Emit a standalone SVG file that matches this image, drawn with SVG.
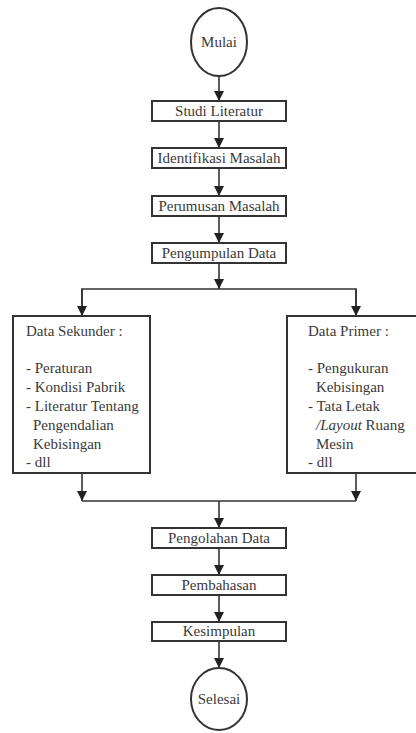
<svg xmlns="http://www.w3.org/2000/svg" width="416" height="733" viewBox="0 0 416 733">
<style>
.n{fill:#fff;stroke:#333;stroke-width:2}
.t{font-family:"Liberation Serif","Times New Roman",serif;font-size:15px;fill:#3a3a3a}
.c{text-anchor:middle}
.e{fill:none;stroke:#333;stroke-width:1.6}
</style>
<defs>
<marker id="ah" markerWidth="10" markerHeight="10" viewBox="0 0 10 10" refX="10" refY="5" orient="auto" markerUnits="userSpaceOnUse">
<path d="M0,0 L10,5 L0,10 Z" fill="#222"/>
</marker>
</defs>
<rect width="416" height="733" fill="#fff"/>
<g id="connectors">
<line class="e" x1="219" y1="76" x2="219" y2="101" marker-end="url(#ah)"/>
<line class="e" x1="219" y1="121" x2="219" y2="148" marker-end="url(#ah)"/>
<line class="e" x1="219" y1="168" x2="219" y2="196" marker-end="url(#ah)"/>
<line class="e" x1="219" y1="216" x2="219" y2="243" marker-end="url(#ah)"/>
<line class="e" x1="219" y1="263" x2="219" y2="289" marker-end="url(#ah)"/>
<polyline class="e" points="82,316 82,289 356,289 356,316"/>
<line class="e" x1="82" y1="289" x2="82" y2="316" marker-end="url(#ah)"/>
<line class="e" x1="356" y1="289" x2="356" y2="316" marker-end="url(#ah)"/>
<line class="e" x1="82" y1="473" x2="82" y2="501" marker-end="url(#ah)"/>
<line class="e" x1="356" y1="473" x2="356" y2="501" marker-end="url(#ah)"/>
<line class="e" x1="82" y1="501" x2="356" y2="501"/>
<line class="e" x1="219" y1="501" x2="219" y2="528" marker-end="url(#ah)"/>
<line class="e" x1="219" y1="548" x2="219" y2="575" marker-end="url(#ah)"/>
<line class="e" x1="219" y1="595" x2="219" y2="622" marker-end="url(#ah)"/>
<line class="e" x1="219" y1="641" x2="219" y2="668" marker-end="url(#ah)"/>
</g>
<g id="mulai"><ellipse class="n" cx="219" cy="42" rx="28" ry="34"/><text class="t c" x="219" y="47">Mulai</text></g>
<g id="studi"><rect class="n" x="152" y="101" width="134" height="20"/><text class="t c" x="219" y="116">Studi Literatur</text></g>
<g id="identifikasi"><rect class="n" x="152" y="148" width="134" height="20"/><text class="t c" x="219" y="163">Identifikasi Masalah</text></g>
<g id="perumusan"><rect class="n" x="152" y="196" width="134" height="20"/><text class="t c" x="219" y="211">Perumusan Masalah</text></g>
<g id="pengumpulan"><rect class="n" x="152" y="243" width="134" height="20"/><text class="t c" x="219" y="258">Pengumpulan Data</text></g>
<g id="sekunder"><rect class="n" x="13" y="316" width="137" height="157"/>
<text class="t" x="26" y="336">Data Sekunder :</text>
<text class="t" x="26" y="373">- Peraturan</text>
<text class="t" x="26" y="392">- Kondisi Pabrik</text>
<text class="t" x="26" y="411">- Literatur Tentang</text>
<text class="t" x="33" y="430">Pengendalian</text>
<text class="t" x="33" y="449">Kebisingan</text>
<text class="t" x="26" y="467">- dll</text>
</g>
<g id="primer"><rect class="n" x="287" y="316" width="131" height="157"/>
<text class="t" x="308" y="336">Data Primer :</text>
<text class="t" x="308" y="373">- Pengukuran</text>
<text class="t" x="316" y="392">Kebisingan</text>
<text class="t" x="308" y="411">- Tata Letak</text>
<text class="t" x="316" y="430"><tspan font-style="italic">/Layout</tspan> Ruang</text>
<text class="t" x="316" y="449">Mesin</text>
<text class="t" x="308" y="467">- dll</text>
</g>
<g id="pengolahan"><rect class="n" x="152" y="528" width="134" height="20"/><text class="t c" x="219" y="543">Pengolahan Data</text></g>
<g id="pembahasan"><rect class="n" x="152" y="575" width="134" height="20"/><text class="t c" x="219" y="590">Pembahasan</text></g>
<g id="kesimpulan"><rect class="n" x="152" y="622" width="134" height="19"/><text class="t c" x="219" y="636">Kesimpulan</text></g>
<g id="selesai"><ellipse class="n" cx="219" cy="699" rx="28" ry="31"/><text class="t c" x="219" y="704">Selesai</text></g>
</svg>
